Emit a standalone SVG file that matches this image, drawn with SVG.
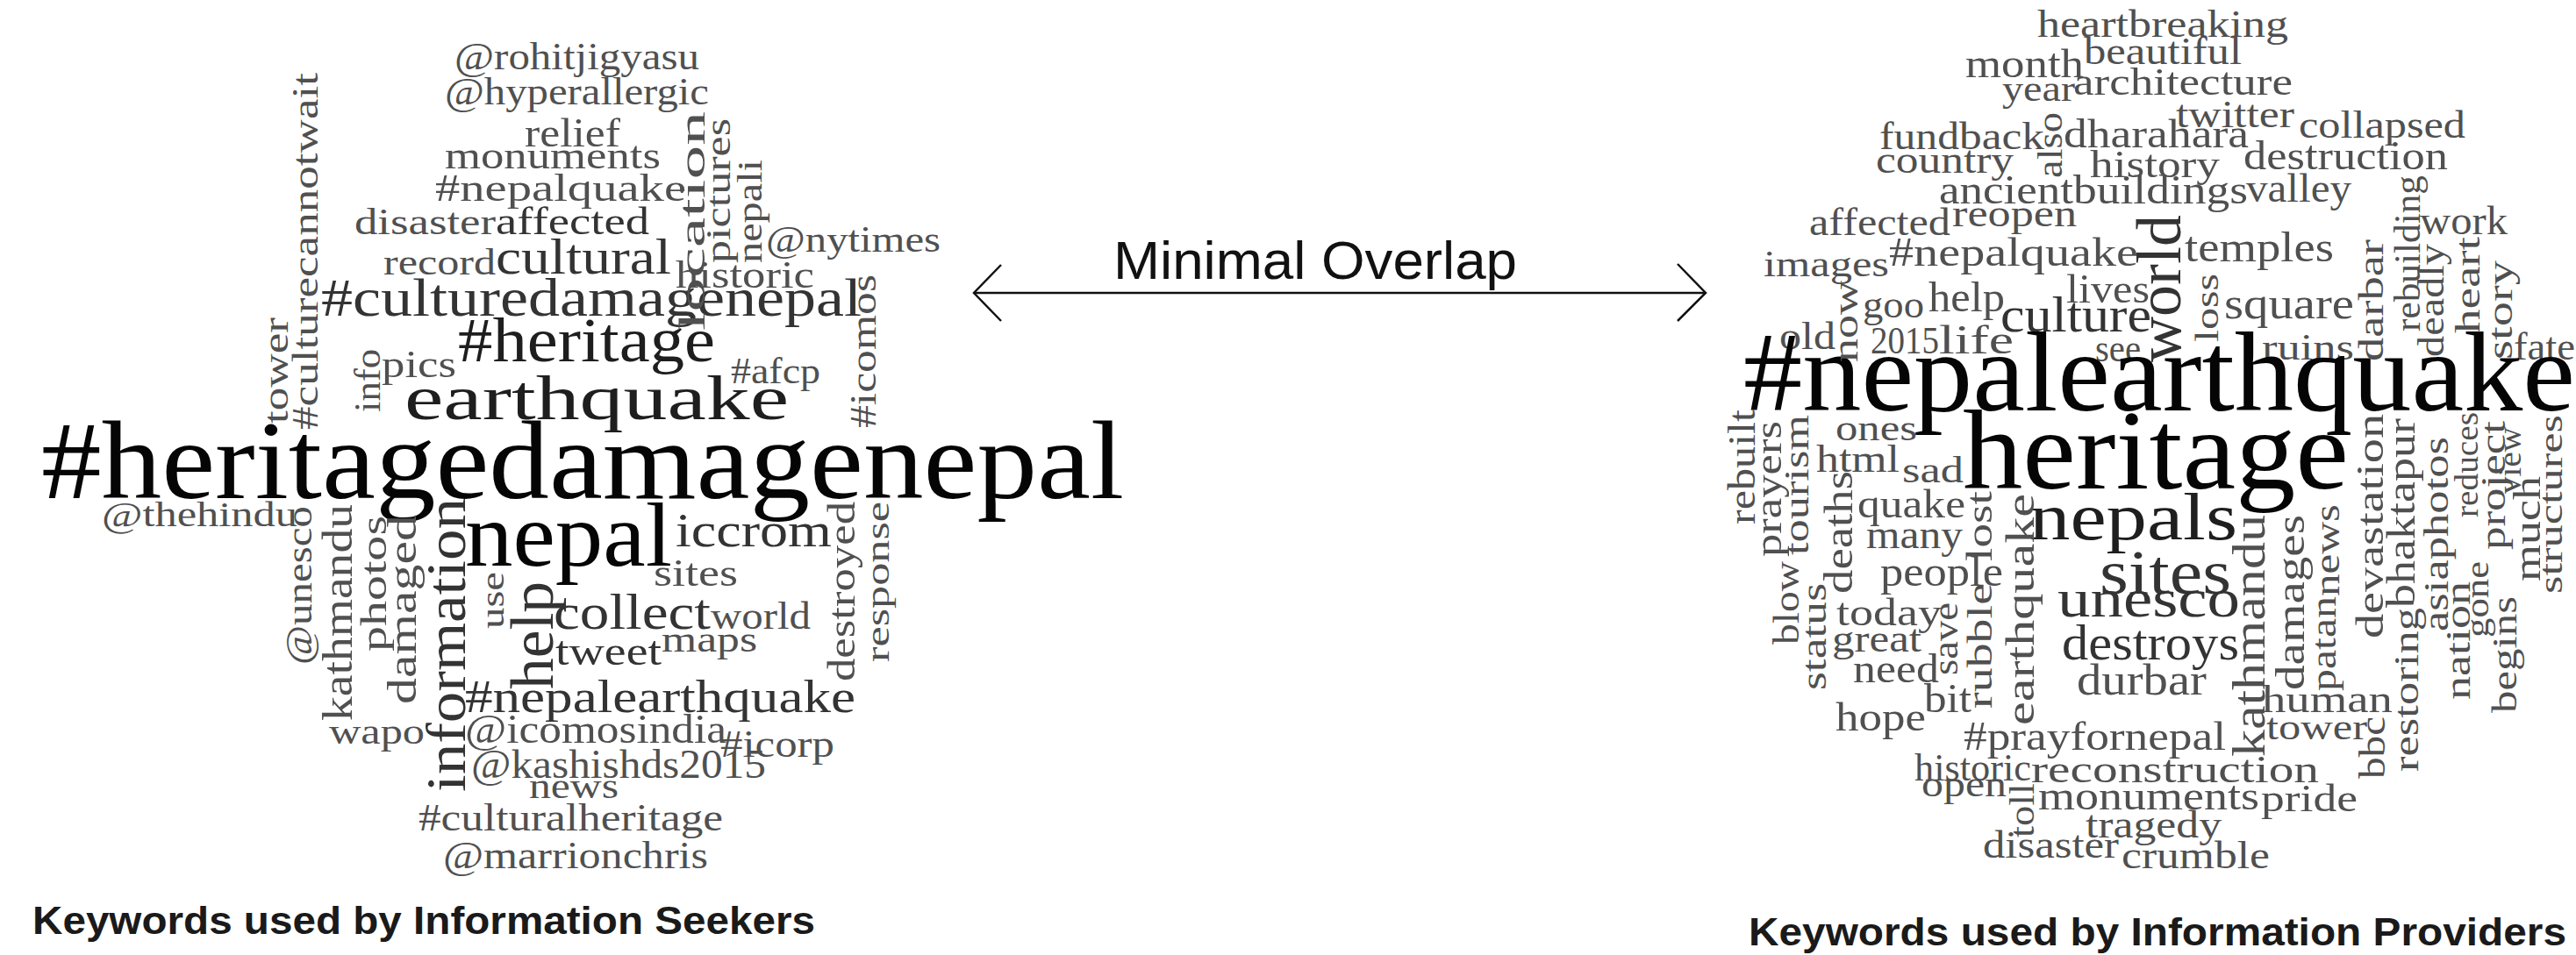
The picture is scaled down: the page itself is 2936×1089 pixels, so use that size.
<svg xmlns="http://www.w3.org/2000/svg" width="2936" height="1089" viewBox="0 0 2936 1089">
<style>
text{font-family:"Liberation Serif","DejaVu Serif",serif}
.c1{fill:#050505}.c2{fill:#1e1e1e}.c3{fill:#333}.c4{fill:#505050}
.cap{font-family:"Liberation Sans",Arial,sans-serif;font-weight:bold;fill:#1a1a1a}
.lbl{font-family:"Liberation Sans",Arial,sans-serif;fill:#111}
.arr{stroke:#111;fill:none;stroke-width:2.5}
</style>
<rect width="2936" height="1089" fill="#fff"/>
<g id="seekers-cloud">
<text class="c4" x="518" y="79" font-size="44" textLength="279" lengthAdjust="spacingAndGlyphs">@rohitjigyasu</text>
<text class="c4" x="507" y="119" font-size="44" textLength="301" lengthAdjust="spacingAndGlyphs">@hyperallergic</text>
<text class="c4" x="598" y="167" font-size="46" textLength="109" lengthAdjust="spacingAndGlyphs">relief</text>
<text class="c4" x="507" y="192" font-size="44" textLength="246" lengthAdjust="spacingAndGlyphs">monuments</text>
<text class="c4" x="496" y="229" font-size="44" textLength="286" lengthAdjust="spacingAndGlyphs">#nepalquake</text>
<text class="c4" x="404" y="267" font-size="42" textLength="161" lengthAdjust="spacingAndGlyphs">disaster</text>
<text class="c3" x="565" y="267" font-size="44" textLength="175" lengthAdjust="spacingAndGlyphs">affected</text>
<text class="c4" x="437" y="313" font-size="42" textLength="128" lengthAdjust="spacingAndGlyphs">record</text>
<text class="c3" x="565" y="312" font-size="56" textLength="200" lengthAdjust="spacingAndGlyphs">cultural</text>
<text class="c3" x="366" y="360" font-size="62" textLength="616" lengthAdjust="spacingAndGlyphs">#culturedamagenepal</text>
<text class="c2" x="522" y="412" font-size="72" textLength="293" lengthAdjust="spacingAndGlyphs">#heritage</text>
<text class="c4" x="435" y="430" font-size="44" textLength="85" lengthAdjust="spacingAndGlyphs">pics</text>
<text class="c4" x="873" y="287" font-size="42" textLength="199" lengthAdjust="spacingAndGlyphs">@nytimes</text>
<text class="c4" x="770" y="328" font-size="44" textLength="158" lengthAdjust="spacingAndGlyphs">historic</text>
<text class="c4" x="833" y="437" font-size="42" textLength="102" lengthAdjust="spacingAndGlyphs">#afcp</text>
<text class="c2" x="461" y="478" font-size="72" textLength="438" lengthAdjust="spacingAndGlyphs">earthquake</text>
<text class="c1" x="47" y="568" font-size="126" textLength="1234" lengthAdjust="spacingAndGlyphs">#heritagedamagenepal</text>
<text class="c4" x="116" y="600" font-size="40" textLength="223" lengthAdjust="spacingAndGlyphs">@thehindu</text>
<text class="c1" x="530" y="645" font-size="104" textLength="236" lengthAdjust="spacingAndGlyphs">nepal</text>
<text class="c3" x="770" y="623" font-size="54" textLength="178" lengthAdjust="spacingAndGlyphs">iccrom</text>
<text class="c4" x="745" y="668" font-size="44" textLength="96" lengthAdjust="spacingAndGlyphs">sites</text>
<text class="c3" x="631" y="717" font-size="58" textLength="179" lengthAdjust="spacingAndGlyphs">collect</text>
<text class="c4" x="810" y="717" font-size="44" textLength="114" lengthAdjust="spacingAndGlyphs">world</text>
<text class="c3" x="633" y="758" font-size="46" textLength="121" lengthAdjust="spacingAndGlyphs">tweet</text>
<text class="c4" x="754" y="743" font-size="42" textLength="109" lengthAdjust="spacingAndGlyphs">maps</text>
<text class="c3" x="530" y="812" font-size="52" textLength="445" lengthAdjust="spacingAndGlyphs">#nepalearthquake</text>
<text class="c4" x="375" y="848" font-size="40" textLength="109" lengthAdjust="spacingAndGlyphs">wapo</text>
<text class="c4" x="530" y="847" font-size="46" textLength="298" lengthAdjust="spacingAndGlyphs">@icomosindia</text>
<text class="c4" x="821" y="863" font-size="44" textLength="130" lengthAdjust="spacingAndGlyphs">#icorp</text>
<text class="c4" x="537" y="887" font-size="46" textLength="336" lengthAdjust="spacingAndGlyphs">@kashishds2015</text>
<text class="c4" x="603" y="910" font-size="40" textLength="102" lengthAdjust="spacingAndGlyphs">news</text>
<text class="c4" x="477" y="947" font-size="44" textLength="347" lengthAdjust="spacingAndGlyphs">#culturalheritage</text>
<text class="c4" x="505" y="990" font-size="44" textLength="302" lengthAdjust="spacingAndGlyphs">@marrionchris</text>
<text class="c4" transform="translate(362,490) rotate(-90)" font-size="42" textLength="407" lengthAdjust="spacingAndGlyphs">#culturecannotwait</text>
<text class="c4" transform="translate(328,483) rotate(-90)" font-size="40" textLength="121" lengthAdjust="spacingAndGlyphs">tower</text>
<text class="c4" transform="translate(433,470) rotate(-90)" font-size="42" textLength="72" lengthAdjust="spacingAndGlyphs">info</text>
<text class="c4" transform="translate(803,377) rotate(-90)" font-size="42" textLength="250" lengthAdjust="spacingAndGlyphs">location</text>
<text class="c4" transform="translate(832,300) rotate(-90)" font-size="40" textLength="165" lengthAdjust="spacingAndGlyphs">pictures</text>
<text class="c4" transform="translate(868,300) rotate(-90)" font-size="40" textLength="118" lengthAdjust="spacingAndGlyphs">nepali</text>
<text class="c4" transform="translate(998,488) rotate(-90)" font-size="42" textLength="175" lengthAdjust="spacingAndGlyphs">#icomos</text>
<text class="c4" transform="translate(355,758) rotate(-90)" font-size="42" textLength="181" lengthAdjust="spacingAndGlyphs">@unesco</text>
<text class="c4" transform="translate(401,822) rotate(-90)" font-size="48" textLength="247" lengthAdjust="spacingAndGlyphs">kathmandu</text>
<text class="c4" transform="translate(440,743) rotate(-90)" font-size="42" textLength="155" lengthAdjust="spacingAndGlyphs">photos</text>
<text class="c4" transform="translate(474,803) rotate(-90)" font-size="46" textLength="216" lengthAdjust="spacingAndGlyphs">damaged</text>
<text class="c3" transform="translate(530,903) rotate(-90)" font-size="64" textLength="335" lengthAdjust="spacingAndGlyphs">information</text>
<text class="c4" transform="translate(574,717) rotate(-90)" font-size="38" textLength="65" lengthAdjust="spacingAndGlyphs">use</text>
<text class="c3" transform="translate(630,786) rotate(-90)" font-size="70" textLength="123" lengthAdjust="spacingAndGlyphs">help</text>
<text class="c4" transform="translate(974,777) rotate(-90)" font-size="44" textLength="205" lengthAdjust="spacingAndGlyphs">destroyed</text>
<text class="c4" transform="translate(1013,755) rotate(-90)" font-size="38" textLength="183" lengthAdjust="spacingAndGlyphs">response</text>
</g>
<g id="providers-cloud">
<text class="c4" x="2322" y="42" font-size="44" textLength="286" lengthAdjust="spacingAndGlyphs">heartbreaking</text>
<text class="c4" x="2375" y="73" font-size="44" textLength="180" lengthAdjust="spacingAndGlyphs">beautiful</text>
<text class="c4" x="2240" y="88" font-size="46" textLength="135" lengthAdjust="spacingAndGlyphs">month</text>
<text class="c4" x="2282" y="115" font-size="42" textLength="83" lengthAdjust="spacingAndGlyphs">year</text>
<text class="c4" x="2363" y="108" font-size="44" textLength="250" lengthAdjust="spacingAndGlyphs">architecture</text>
<text class="c4" x="2142" y="170" font-size="44" textLength="91" lengthAdjust="spacingAndGlyphs">fund</text>
<text class="c4" x="2233" y="170" font-size="44" textLength="97" lengthAdjust="spacingAndGlyphs">back</text>
<text class="c4" x="2352" y="168" font-size="46" textLength="211" lengthAdjust="spacingAndGlyphs">dharahara</text>
<text class="c4" x="2480" y="145" font-size="44" textLength="135" lengthAdjust="spacingAndGlyphs">twitter</text>
<text class="c4" x="2620" y="157" font-size="44" textLength="190" lengthAdjust="spacingAndGlyphs">collapsed</text>
<text class="c4" x="2138" y="197" font-size="44" textLength="157" lengthAdjust="spacingAndGlyphs">country</text>
<text class="c4" x="2382" y="202" font-size="44" textLength="148" lengthAdjust="spacingAndGlyphs">history</text>
<text class="c4" x="2557" y="193" font-size="46" textLength="233" lengthAdjust="spacingAndGlyphs">destruction</text>
<text class="c4" x="2210" y="232" font-size="46" textLength="153" lengthAdjust="spacingAndGlyphs">ancient</text>
<text class="c4" x="2363" y="232" font-size="46" textLength="199" lengthAdjust="spacingAndGlyphs">buildings</text>
<text class="c4" x="2560" y="230" font-size="46" textLength="120" lengthAdjust="spacingAndGlyphs">valley</text>
<text class="c4" x="2062" y="268" font-size="44" textLength="161" lengthAdjust="spacingAndGlyphs">affected</text>
<text class="c4" x="2225" y="258" font-size="44" textLength="142" lengthAdjust="spacingAndGlyphs">reopen</text>
<text class="c4" x="2153" y="303" font-size="46" textLength="284" lengthAdjust="spacingAndGlyphs">#nepalquake</text>
<text class="c4" x="2010" y="315" font-size="42" textLength="143" lengthAdjust="spacingAndGlyphs">images</text>
<text class="c4" x="2490" y="298" font-size="48" textLength="170" lengthAdjust="spacingAndGlyphs">temples</text>
<text class="c4" x="2758" y="267" font-size="46" textLength="100" lengthAdjust="spacingAndGlyphs">work</text>
<text class="c4" x="2355" y="345" font-size="46" textLength="95" lengthAdjust="spacingAndGlyphs">lives</text>
<text class="c4" x="2535" y="363" font-size="50" textLength="148" lengthAdjust="spacingAndGlyphs">square</text>
<text class="c4" x="2123" y="362" font-size="44" textLength="70" lengthAdjust="spacingAndGlyphs">goo</text>
<text class="c4" x="2198" y="355" font-size="48" textLength="87" lengthAdjust="spacingAndGlyphs">help</text>
<text class="c3" x="2280" y="378" font-size="58" textLength="172" lengthAdjust="spacingAndGlyphs">culture</text>
<text class="c4" x="2028" y="398" font-size="44" textLength="64" lengthAdjust="spacingAndGlyphs">old</text>
<text class="c4" x="2132" y="403" font-size="44" textLength="78" lengthAdjust="spacingAndGlyphs">2015</text>
<text class="c4" x="2210" y="403" font-size="46" textLength="85" lengthAdjust="spacingAndGlyphs">life</text>
<text class="c4" x="2388" y="412" font-size="44" textLength="52" lengthAdjust="spacingAndGlyphs">see</text>
<text class="c4" x="2578" y="410" font-size="42" textLength="105" lengthAdjust="spacingAndGlyphs">ruins</text>
<text class="c4" x="2865" y="410" font-size="44" textLength="70" lengthAdjust="spacingAndGlyphs">fate</text>
<text class="c1" x="1987" y="468" font-size="130" textLength="948" lengthAdjust="spacingAndGlyphs">#nepalearthquake</text>
<text class="c4" x="2092" y="502" font-size="42" textLength="93" lengthAdjust="spacingAndGlyphs">ones</text>
<text class="c4" x="2070" y="538" font-size="44" textLength="95" lengthAdjust="spacingAndGlyphs">html</text>
<text class="c4" x="2168" y="550" font-size="42" textLength="70" lengthAdjust="spacingAndGlyphs">sad</text>
<text class="c1" x="2237" y="557" font-size="130" textLength="440" lengthAdjust="spacingAndGlyphs">heritage</text>
<text class="c4" x="2117" y="590" font-size="46" textLength="123" lengthAdjust="spacingAndGlyphs">quake</text>
<text class="c4" x="2127" y="625" font-size="46" textLength="110" lengthAdjust="spacingAndGlyphs">many</text>
<text class="c2" x="2313" y="615" font-size="76" textLength="237" lengthAdjust="spacingAndGlyphs">nepals</text>
<text class="c4" x="2143" y="668" font-size="48" textLength="140" lengthAdjust="spacingAndGlyphs">people</text>
<text class="c3" x="2393" y="677" font-size="72" textLength="150" lengthAdjust="spacingAndGlyphs">sites</text>
<text class="c3" x="2345" y="703" font-size="62" textLength="208" lengthAdjust="spacingAndGlyphs">unesco</text>
<text class="c4" x="2093" y="713" font-size="44" textLength="120" lengthAdjust="spacingAndGlyphs">today</text>
<text class="c4" x="2088" y="743" font-size="44" textLength="102" lengthAdjust="spacingAndGlyphs">great</text>
<text class="c3" x="2350" y="752" font-size="56" textLength="202" lengthAdjust="spacingAndGlyphs">destroys</text>
<text class="c4" x="2112" y="778" font-size="46" textLength="98" lengthAdjust="spacingAndGlyphs">need</text>
<text class="c4" x="2367" y="792" font-size="50" textLength="148" lengthAdjust="spacingAndGlyphs">durbar</text>
<text class="c4" x="2578" y="812" font-size="44" textLength="149" lengthAdjust="spacingAndGlyphs">human</text>
<text class="c4" x="2193" y="812" font-size="46" textLength="54" lengthAdjust="spacingAndGlyphs">bit</text>
<text class="c4" x="2092" y="833" font-size="46" textLength="103" lengthAdjust="spacingAndGlyphs">hope</text>
<text class="c4" x="2583" y="843" font-size="42" textLength="115" lengthAdjust="spacingAndGlyphs">tower</text>
<text class="c4" x="2238" y="855" font-size="46" textLength="299" lengthAdjust="spacingAndGlyphs">#prayfornepal</text>
<text class="c4" x="2182" y="890" font-size="44" textLength="133" lengthAdjust="spacingAndGlyphs">historic</text>
<text class="c4" x="2315" y="892" font-size="44" textLength="328" lengthAdjust="spacingAndGlyphs">reconstruction</text>
<text class="c4" x="2190" y="908" font-size="42" textLength="97" lengthAdjust="spacingAndGlyphs">open</text>
<text class="c4" x="2323" y="923" font-size="46" textLength="252" lengthAdjust="spacingAndGlyphs">monuments</text>
<text class="c4" x="2577" y="925" font-size="44" textLength="110" lengthAdjust="spacingAndGlyphs">pride</text>
<text class="c4" x="2377" y="955" font-size="44" textLength="155" lengthAdjust="spacingAndGlyphs">tragedy</text>
<text class="c4" x="2260" y="978" font-size="44" textLength="155" lengthAdjust="spacingAndGlyphs">disaster</text>
<text class="c4" x="2418" y="990" font-size="44" textLength="169" lengthAdjust="spacingAndGlyphs">crumble</text>
<text class="c4" transform="translate(2350,203) rotate(-90)" font-size="40" textLength="75" lengthAdjust="spacingAndGlyphs">also</text>
<text class="c3" transform="translate(2485,413) rotate(-90)" font-size="72" textLength="168" lengthAdjust="spacingAndGlyphs">world</text>
<text class="c4" transform="translate(2758,378) rotate(-90)" font-size="42" textLength="178" lengthAdjust="spacingAndGlyphs">rebuilding</text>
<text class="c4" transform="translate(2716,412) rotate(-90)" font-size="40" textLength="139" lengthAdjust="spacingAndGlyphs">darbar</text>
<text class="c4" transform="translate(2785,407) rotate(-90)" font-size="42" textLength="129" lengthAdjust="spacingAndGlyphs">deadly</text>
<text class="c4" transform="translate(2826,380) rotate(-90)" font-size="40" textLength="110" lengthAdjust="spacingAndGlyphs">heart</text>
<text class="c4" transform="translate(2863,410) rotate(-90)" font-size="40" textLength="113" lengthAdjust="spacingAndGlyphs">story</text>
<text class="c4" transform="translate(2528,390) rotate(-90)" font-size="38" textLength="78" lengthAdjust="spacingAndGlyphs">loss</text>
<text class="c4" transform="translate(2117,413) rotate(-90)" font-size="40" textLength="93" lengthAdjust="spacingAndGlyphs">now</text>
<text class="c4" transform="translate(2000,598) rotate(-90)" font-size="44" textLength="131" lengthAdjust="spacingAndGlyphs">rebuilt</text>
<text class="c4" transform="translate(2030,635) rotate(-90)" font-size="44" textLength="155" lengthAdjust="spacingAndGlyphs">prayers</text>
<text class="c4" transform="translate(2061,633) rotate(-90)" font-size="40" textLength="160" lengthAdjust="spacingAndGlyphs">tourism</text>
<text class="c4" transform="translate(2111,677) rotate(-90)" font-size="46" textLength="140" lengthAdjust="spacingAndGlyphs">deaths</text>
<text class="c4" transform="translate(2270,640) rotate(-90)" font-size="42" textLength="80" lengthAdjust="spacingAndGlyphs">lost</text>
<text class="c4" transform="translate(2318,827) rotate(-90)" font-size="46" textLength="264" lengthAdjust="spacingAndGlyphs">earthquake</text>
<text class="c4" transform="translate(2581,863) rotate(-90)" font-size="52" textLength="276" lengthAdjust="spacingAndGlyphs">kathmandu</text>
<text class="c4" transform="translate(2626,787) rotate(-90)" font-size="46" textLength="200" lengthAdjust="spacingAndGlyphs">damages</text>
<text class="c4" transform="translate(2666,680) rotate(-90)" font-size="40" textLength="105" lengthAdjust="spacingAndGlyphs">news</text>
<text class="c4" transform="translate(2662,788) rotate(-90)" font-size="40" textLength="108" lengthAdjust="spacingAndGlyphs">patan</text>
<text class="c4" transform="translate(2716,728) rotate(-90)" font-size="44" textLength="256" lengthAdjust="spacingAndGlyphs">devastation</text>
<text class="c4" transform="translate(2752,693) rotate(-90)" font-size="46" textLength="216" lengthAdjust="spacingAndGlyphs">bhaktapur</text>
<text class="c4" transform="translate(2756,880) rotate(-90)" font-size="40" textLength="187" lengthAdjust="spacingAndGlyphs">restoring</text>
<text class="c4" transform="translate(2718,888) rotate(-90)" font-size="42" textLength="71" lengthAdjust="spacingAndGlyphs">bbc</text>
<text class="c4" transform="translate(2790,720) rotate(-90)" font-size="40" textLength="222" lengthAdjust="spacingAndGlyphs">asiaphotos</text>
<text class="c4" transform="translate(2815,798) rotate(-90)" font-size="40" textLength="135" lengthAdjust="spacingAndGlyphs">nation</text>
<text class="c4" transform="translate(2824,590) rotate(-90)" font-size="38" textLength="120" lengthAdjust="spacingAndGlyphs">reduces</text>
<text class="c4" transform="translate(2836,727) rotate(-90)" font-size="38" textLength="87" lengthAdjust="spacingAndGlyphs">gone</text>
<text class="c4" transform="translate(2855,627) rotate(-90)" font-size="40" textLength="147" lengthAdjust="spacingAndGlyphs">project</text>
<text class="c4" transform="translate(2873,563) rotate(-90)" font-size="38" textLength="76" lengthAdjust="spacingAndGlyphs">view</text>
<text class="c4" transform="translate(2895,663) rotate(-90)" font-size="44" textLength="120" lengthAdjust="spacingAndGlyphs">much</text>
<text class="c4" transform="translate(2920,677) rotate(-90)" font-size="38" textLength="204" lengthAdjust="spacingAndGlyphs">structures</text>
<text class="c4" transform="translate(2868,813) rotate(-90)" font-size="40" textLength="133" lengthAdjust="spacingAndGlyphs">begins</text>
<text class="c4" transform="translate(2050,735) rotate(-90)" font-size="42" textLength="95" lengthAdjust="spacingAndGlyphs">blow</text>
<text class="c4" transform="translate(2081,787) rotate(-90)" font-size="40" textLength="122" lengthAdjust="spacingAndGlyphs">status</text>
<text class="c4" transform="translate(2231,770) rotate(-90)" font-size="40" textLength="83" lengthAdjust="spacingAndGlyphs">save</text>
<text class="c4" transform="translate(2270,808) rotate(-90)" font-size="40" textLength="143" lengthAdjust="spacingAndGlyphs">rubble</text>
<text class="c4" transform="translate(2318,955) rotate(-90)" font-size="40" textLength="62" lengthAdjust="spacingAndGlyphs">toll</text>
</g>
<g id="captions">
<text class="cap" x="37" y="1065" font-size="44" textLength="892" lengthAdjust="spacingAndGlyphs">Keywords used by Information Seekers</text>
<text class="cap" x="1993" y="1078" font-size="44" textLength="932" lengthAdjust="spacingAndGlyphs">Keywords used by Information Providers</text>
</g>
<g id="connectors">
<line class="arr" x1="1110" y1="334" x2="1944" y2="334" stroke-width="3.5"/>
<polyline class="arr" points="1141,302 1110,334 1141,366"/>
<polyline class="arr" points="1912,301 1944,334 1912,366"/>
<text class="lbl" x="1269" y="318" font-size="62" textLength="460" lengthAdjust="spacingAndGlyphs">Minimal Overlap</text>
</g>
</svg>
